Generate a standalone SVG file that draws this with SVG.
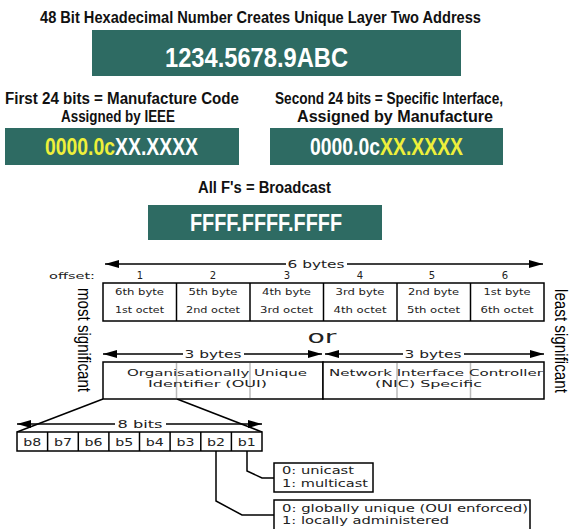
<svg xmlns="http://www.w3.org/2000/svg" width="572" height="529" viewBox="0 0 572 529">
<style>
.hd{font-family:"Liberation Sans",Arial,sans-serif;font-weight:bold;fill:#111}
.tb{fill:#2e6b63}
.num{font-family:"Liberation Sans",Arial,sans-serif;fill:#fff}
.yl{fill:#eef03a}
.sm{font-family:"DejaVu Sans",sans-serif;fill:#222}
.ln{stroke:#000;stroke-width:1.5;fill:none}
.bx{stroke:#000;stroke-width:1.5;fill:#fff}
.gr{stroke:#bbb;stroke-width:1.5}
.vt{font-family:"Liberation Sans",Arial,sans-serif;fill:#000}
</style>
<defs>
<marker id="ah" viewBox="0 0 14 8" refX="14" refY="4" markerWidth="14" markerHeight="8" markerUnits="userSpaceOnUse" orient="auto">
<path d="M0,0 L14,4 L0,8 z" fill="#000"/>
</marker>
</defs>
<rect width="572" height="529" fill="#fff"/>

<g id="title">
<text class="hd" x="40" y="23" font-size="16" textLength="441" lengthAdjust="spacingAndGlyphs">48 Bit Hexadecimal Number Creates Unique Layer Two Address</text>
</g>
<g id="addr">
<rect class="tb" x="92" y="30" width="369" height="46"/>
<text class="num" x="165" y="67" font-size="28" font-weight="bold" textLength="183" lengthAdjust="spacingAndGlyphs">1234.5678.9ABC</text>
</g>
<g id="first">
<text class="hd" x="5" y="104" font-size="16" textLength="234" lengthAdjust="spacingAndGlyphs">First 24 bits = Manufacture Code</text>
<text class="hd" x="61" y="122" font-size="16" textLength="114" lengthAdjust="spacingAndGlyphs">Assigned by IEEE</text>
<rect class="tb" x="5" y="128" width="234" height="37"/>
<text class="num" x="45" y="155" font-size="23" font-weight="bold" textLength="153" lengthAdjust="spacingAndGlyphs"><tspan class="yl">0000.0c</tspan>XX.XXXX</text>
</g>
<g id="second">
<text class="hd" x="275" y="104" font-size="16" textLength="228" lengthAdjust="spacingAndGlyphs">Second 24 bits = Specific Interface,</text>
<text class="hd" x="297" y="122" font-size="16" textLength="196" lengthAdjust="spacingAndGlyphs">Assigned by Manufacture</text>
<rect class="tb" x="270" y="128" width="233" height="37"/>
<text class="num" x="310" y="155" font-size="23" font-weight="bold" textLength="153" lengthAdjust="spacingAndGlyphs">0000.0c<tspan class="yl">XX.XXXX</tspan></text>
</g>
<g id="broadcast">
<text class="hd" x="198" y="193" font-size="16" textLength="133" lengthAdjust="spacingAndGlyphs">All F's = Broadcast</text>
<rect class="tb" x="148" y="205" width="234" height="35"/>
<text class="num" x="190" y="231" font-size="23" font-weight="bold" textLength="152" lengthAdjust="spacingAndGlyphs">FFFF.FFFF.FFFF</text>
</g>

<g id="connectors">
<line class="ln" x1="286" y1="264" x2="105" y2="264" marker-end="url(#ah)"/>
<line class="ln" x1="347" y1="264" x2="543" y2="264" marker-end="url(#ah)"/>
<line class="ln" x1="183" y1="354" x2="103" y2="354" marker-end="url(#ah)"/>
<line class="ln" x1="244" y1="354" x2="322" y2="354" marker-end="url(#ah)"/>
<line class="ln" x1="403" y1="354" x2="325" y2="354" marker-end="url(#ah)"/>
<line class="ln" x1="464" y1="354" x2="544" y2="354" marker-end="url(#ah)"/>
<line class="ln" x1="115" y1="424" x2="17" y2="424" marker-end="url(#ah)"/>
<line class="ln" x1="166" y1="424" x2="262" y2="424" marker-end="url(#ah)"/>
<line class="ln" x1="103" y1="399" x2="17" y2="432"/>
<line class="ln" x1="177" y1="399" x2="262" y2="432"/>
<path class="ln" stroke-width="2" d="M247,451 V471 L262,478 H274"/>
<path class="ln" stroke-width="2" d="M216,451 V501 L242,515 H274"/>
</g>

<g id="labels">
<text class="sm" x="316" y="268" font-size="10.5" text-anchor="middle" textLength="57" lengthAdjust="spacingAndGlyphs">6 bytes</text>
<text class="sm" x="95" y="279" font-size="9.5" text-anchor="end" textLength="46" lengthAdjust="spacingAndGlyphs" fill="#333">offset:</text>
<text class="sm" x="140" y="279" font-size="10" text-anchor="middle">1</text>
<text class="sm" x="213" y="279" font-size="10" text-anchor="middle">2</text>
<text class="sm" x="287" y="279" font-size="10" text-anchor="middle">3</text>
<text class="sm" x="360" y="279" font-size="10" text-anchor="middle">4</text>
<text class="sm" x="432" y="279" font-size="10" text-anchor="middle">5</text>
<text class="sm" x="505" y="279" font-size="10" text-anchor="middle">6</text>
<text class="sm" x="322" y="343" font-size="18" text-anchor="middle" textLength="29" lengthAdjust="spacingAndGlyphs">or</text>
<text class="sm" x="213" y="358" font-size="10.5" text-anchor="middle" textLength="57" lengthAdjust="spacingAndGlyphs">3 bytes</text>
<text class="sm" x="433" y="358" font-size="10.5" text-anchor="middle" textLength="57" lengthAdjust="spacingAndGlyphs">3 bytes</text>
<text class="sm" x="140" y="428" font-size="10.5" text-anchor="middle" textLength="45" lengthAdjust="spacingAndGlyphs">8 bits</text>
</g>

<g id="bytes">
<rect class="bx" x="103" y="283" width="441" height="38"/>
<line class="ln" x1="176.5" y1="283" x2="176.5" y2="321"/>
<line class="ln" x1="250" y1="283" x2="250" y2="321"/>
<line class="ln" x1="323.5" y1="283" x2="323.5" y2="321"/>
<line class="ln" x1="397" y1="283" x2="397" y2="321"/>
<line class="ln" x1="470.5" y1="283" x2="470.5" y2="321"/>
<g class="sm" font-size="8.5" text-anchor="middle">
<text x="139.5" y="295" textLength="49" lengthAdjust="spacingAndGlyphs">6th byte</text>
<text x="213" y="295" textLength="49" lengthAdjust="spacingAndGlyphs">5th byte</text>
<text x="286.5" y="295" textLength="49" lengthAdjust="spacingAndGlyphs">4th byte</text>
<text x="360" y="295" textLength="49" lengthAdjust="spacingAndGlyphs">3rd byte</text>
<text x="433.5" y="295" textLength="51" lengthAdjust="spacingAndGlyphs">2nd byte</text>
<text x="507" y="295" textLength="47" lengthAdjust="spacingAndGlyphs">1st byte</text>
<text x="139.5" y="313" textLength="49" lengthAdjust="spacingAndGlyphs">1st octet</text>
<text x="213" y="313" textLength="54" lengthAdjust="spacingAndGlyphs">2nd octet</text>
<text x="286.5" y="313" textLength="53" lengthAdjust="spacingAndGlyphs">3rd octet</text>
<text x="360" y="313" textLength="53" lengthAdjust="spacingAndGlyphs">4th octet</text>
<text x="433.5" y="313" textLength="53" lengthAdjust="spacingAndGlyphs">5th octet</text>
<text x="507" y="313" textLength="53" lengthAdjust="spacingAndGlyphs">6th octet</text>
</g>
</g>

<g id="oui">
<rect class="bx" x="103" y="362" width="220" height="37"/>
<line class="gr" x1="176.5" y1="363" x2="176.5" y2="398"/>
<line class="gr" x1="250" y1="363" x2="250" y2="398"/>
<text class="sm" x="127" y="376" font-size="9.5" textLength="180" lengthAdjust="spacingAndGlyphs">Organisationally Unique</text>
<text class="sm" x="148" y="386.5" font-size="9.5" textLength="119" lengthAdjust="spacingAndGlyphs">Identifier (OUI)</text>
</g>
<g id="nic">
<rect class="bx" x="323" y="362" width="221" height="37" fill="none"/>
<line class="gr" x1="397" y1="363" x2="397" y2="398"/>
<line class="gr" x1="470.5" y1="363" x2="470.5" y2="398"/>
<text class="sm" x="329" y="376" font-size="9.5" textLength="214" lengthAdjust="spacingAndGlyphs">Network Interface Controller</text>
<text class="sm" x="375" y="386.5" font-size="9.5" textLength="107" lengthAdjust="spacingAndGlyphs">(NIC) Specific</text>
</g>

<g id="most">
<text class="vt" transform="translate(78,288) rotate(90)" font-size="19" textLength="104" lengthAdjust="spacingAndGlyphs">most significant</text>
</g>
<g id="least">
<text class="vt" transform="translate(555,289) rotate(90)" font-size="19" textLength="104" lengthAdjust="spacingAndGlyphs">least significant</text>
</g>

<g id="bits">
<rect class="bx" x="17" y="432" width="245" height="19"/>
<line class="ln" x1="47.6" y1="432" x2="47.6" y2="451"/>
<line class="ln" x1="78.3" y1="432" x2="78.3" y2="451"/>
<line class="ln" x1="108.9" y1="432" x2="108.9" y2="451"/>
<line class="ln" x1="139.5" y1="432" x2="139.5" y2="451"/>
<line class="ln" x1="170.1" y1="432" x2="170.1" y2="451"/>
<line class="ln" x1="200.8" y1="432" x2="200.8" y2="451"/>
<line class="ln" x1="231.4" y1="432" x2="231.4" y2="451"/>
<g class="sm" font-size="10.5" text-anchor="middle">
<text x="32.3" y="446" textLength="18" lengthAdjust="spacingAndGlyphs">b8</text>
<text x="63" y="446" textLength="18" lengthAdjust="spacingAndGlyphs">b7</text>
<text x="93.6" y="446" textLength="18" lengthAdjust="spacingAndGlyphs">b6</text>
<text x="124.2" y="446" textLength="18" lengthAdjust="spacingAndGlyphs">b5</text>
<text x="154.8" y="446" textLength="18" lengthAdjust="spacingAndGlyphs">b4</text>
<text x="185.5" y="446" textLength="18" lengthAdjust="spacingAndGlyphs">b3</text>
<text x="216.1" y="446" textLength="18" lengthAdjust="spacingAndGlyphs">b2</text>
<text x="246.7" y="446" textLength="18" lengthAdjust="spacingAndGlyphs">b1</text>
</g>
</g>

<g id="cast">
<rect class="bx" x="274" y="463" width="99" height="29" stroke-width="2"/>
<text class="sm" x="282" y="474" font-size="10.5" textLength="72" lengthAdjust="spacingAndGlyphs">0: unicast</text>
<text class="sm" x="282" y="487" font-size="10.5" textLength="86" lengthAdjust="spacingAndGlyphs">1: multicast</text>
</g>
<g id="admin">
<rect class="bx" x="274" y="500" width="256" height="34" stroke-width="2"/>
<text class="sm" x="282" y="512" font-size="10.5" textLength="246" lengthAdjust="spacingAndGlyphs">0: globally unique (OUI enforced)</text>
<text class="sm" x="282" y="524" font-size="10.5" textLength="167" lengthAdjust="spacingAndGlyphs">1: locally administered</text>
</g>
</svg>
